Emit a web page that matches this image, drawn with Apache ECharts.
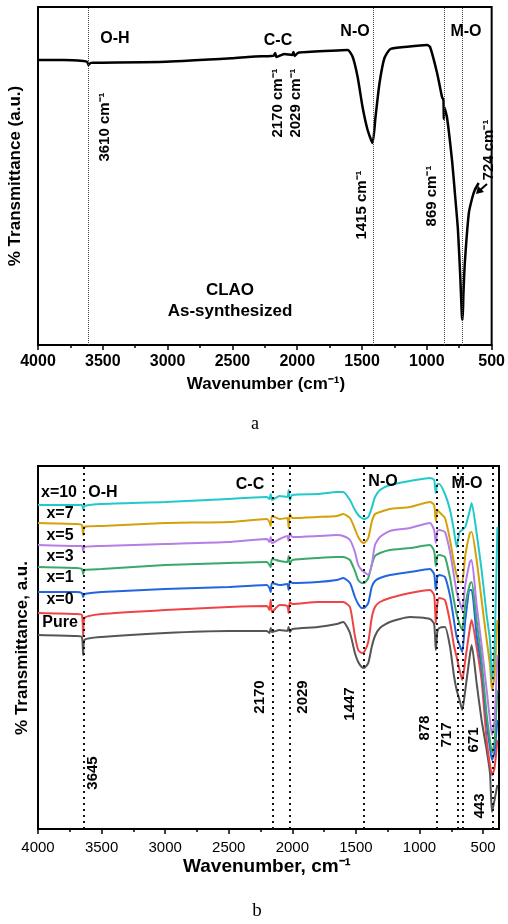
<!DOCTYPE html>
<html>
<head>
<meta charset="utf-8">
<script src="https://cdn.jsdelivr.net/npm/echarts@6/dist/echarts.min.js"></script>
<style>
html,body{margin:0;padding:0;background:#fff;}
#c{width:508px;height:924px;}
</style>
</head>
<body>
<div id="c"></div>
<script>
// ---------- Panel a: CLAO as-synthesized ----------
const waveA = [4000, 3800, 3650, 3620, 3610, 3595, 3576, 3014, 2506, 2353, 2200, 2180, 2170, 2160, 2100, 2040, 2029, 2020, 1993, 1738, 1611, 1572, 1534, 1496, 1457, 1419, 1396, 1365, 1327, 1281, 1151, 998, 975, 921, 883, 872, 869, 866, 845, 806, 781, 760, 742, 730, 724, 718, 707, 676, 650, 630, 600];
const transA = [285, 285, 284, 283, 280, 282, 282.3, 283.3, 286.7, 288.3, 289, 289.5, 292, 288, 291, 290, 293, 289, 292.3, 294.3, 295, 288, 268, 238, 215, 202, 228, 262, 287, 296, 298.3, 300, 298, 272, 248, 245, 226, 238, 228, 185, 148, 115, 68, 30, 25, 50, 82, 132, 147, 155, 162];
const peakLinesA = [3610, 1415, 869, 724];

// ---------- Panel b: doped series ----------
const waveB = [4000, 3700, 3655, 3645, 3635, 3500, 3000, 2500, 2200, 2180, 2170, 2160, 2100, 2040, 2029, 2020, 2000, 1800, 1650, 1600, 1547, 1508, 1482, 1455, 1435, 1403, 1376, 1350, 1311, 1233, 1075, 918, 885, 872, 860, 845, 800, 760, 730, 708, 685, 664, 640, 604, 590, 551, 512, 472, 446, 430, 410, 388];
const pureB = [194, 193, 192, 174, 189, 192, 196, 198, 198, 196, 201, 197, 199, 198, 202, 197, 200, 202, 205, 207, 196, 176, 167, 162, 161, 166, 182, 193, 201, 207, 212, 210, 205, 179, 197, 201, 202, 182, 154, 139, 129, 119, 139, 174, 184, 146, 109, 79, 56, 17, 29, 44];
const x0B = [216, 215, 214, 193, 211, 215, 219, 222, 223, 219, 229, 217, 224, 223, 216, 227, 225, 227, 227, 227, 222, 193, 179, 176, 177, 187, 211, 222, 227, 231, 236, 239, 234, 206, 225, 231, 229, 207, 184, 172, 159, 149, 169, 201, 209, 182, 149, 89, 64, 54, 61, 89];
const x1B = [237, 237, 236, 232, 235, 237, 240, 242, 244, 241, 237, 246, 244, 245, 239, 248, 246, 247, 249, 251, 246, 232, 225, 221, 221, 226, 242, 248, 251, 254, 257, 260, 255, 239, 252, 254, 252, 233, 209, 192, 184, 177, 209, 239, 239, 194, 161, 107, 81, 69, 77, 109];
const x3B = [262, 261, 260, 255, 259, 260, 264, 266, 267, 264, 262, 270, 268, 267, 273, 265, 269, 271, 272, 272, 269, 258, 249, 246, 246, 251, 264, 273, 276, 279, 281, 284, 278, 263, 273, 274, 272, 251, 229, 215, 205, 199, 224, 245, 247, 209, 169, 114, 89, 76, 87, 139];
const x5B = [284, 283, 283, 278, 282, 283, 285, 287, 290, 287, 292, 286, 290, 293, 288, 296, 292, 293, 294, 293, 289, 277, 264, 259, 257, 254, 264, 284, 292, 298, 301, 306, 299, 286, 298, 299, 297, 277, 254, 237, 227, 219, 244, 267, 269, 224, 184, 139, 109, 94, 109, 174];
const x7B = [306, 305, 304, 294, 302, 303, 306, 307, 310, 307, 303, 313, 310, 311, 301, 315, 311, 312, 313, 315, 311, 300, 292, 287, 286, 291, 307, 315, 317, 320, 322, 327, 324, 308, 319, 317, 311, 289, 267, 254, 247, 247, 274, 296, 297, 269, 229, 189, 164, 139, 154, 209];
const x10B = [324, 324, 324, 320, 323, 325, 327, 330, 332, 330, 335, 329, 333, 332, 339, 329, 334, 335, 337, 337, 329, 319, 314, 311, 310, 312, 321, 332, 339, 344, 348, 351, 349, 336, 345, 345, 335, 319, 299, 282, 297, 299, 302, 319, 326, 296, 259, 214, 189, 149, 179, 302];
const seriesNamesB = ['Pure', 'x=0', 'x=1', 'x=3', 'x=5', 'x=7', 'x=10'];
const peakLinesB = [3644, 2158, 2024, 1435, 861, 703, 659, 426];

const tickLabels = [4000, 3500, 3000, 2500, 2000, 1500, 1000, 500];
const minorTicksB = [3750, 3250, 2750, 2250, 1750, 1250, 750];

const F = '"Liberation Sans", Arial, Helvetica, sans-serif';
const colorsB = ['#555555', '#f04343', '#2265e0', '#3aa86a', '#b47ee6', '#d4a10a', '#22c9cc'];
const valsB = [pureB, x0B, x1B, x3B, x5B, x7B, x10B];

function pairs(xs, ys) { return xs.map((x, i) => [x, ys[i]]); }
const plain = v => String(v);

const chart = echarts.init(document.getElementById('c'), null, {renderer: 'canvas'});

function txt(t, x, y, size, opts) {
  opts = opts || {};
  return {
    type: 'text', x: x, y: y, z: 100,
    rotation: opts.rot ? Math.PI / 2 : 0,
    style: {
      text: t,
      font: (opts.weight || 'bold') + ' ' + size + 'px ' + (opts.family || F),
      fill: '#000', align: 'center', verticalAlign: 'middle'
    }
  };
}

const seriesB = valsB.map((v, i) => ({
  type: 'line', name: seriesNamesB[i], xAxisIndex: 1, yAxisIndex: 1,
  data: pairs(waveB, v), showSymbol: false, smooth: 0.2,
  lineStyle: {color: colorsB[i], width: 2}, itemStyle: {color: colorsB[i]},
  silent: true, z: 2 + i
}));
seriesB[6].markLine = {
  silent: true, symbol: ['none', 'none'], label: {show: false}, z: 20,
  lineStyle: {type: [2, 4], color: '#111', width: 2},
  data: peakLinesB.map(v => ({xAxis: v}))
};

const option = {
  backgroundColor: '#fff',
  animation: false,
  grid: [
    {left: 38, top: 7, width: 457, height: 338, show: true, borderColor: '#000', borderWidth: 2, backgroundColor: 'transparent'},
    {left: 38, top: 466, width: 461, height: 363, show: true, borderColor: '#000', borderWidth: 2, backgroundColor: 'transparent'}
  ],
  xAxis: [
    {
      gridIndex: 0, type: 'value', position: 'bottom', inverse: true, min: 500, max: 4000, interval: 500,
      axisLine: {show: true, lineStyle: {color: '#000', width: 2}},
      axisTick: {show: true, length: 5, lineStyle: {color: '#000', width: 1.5}},
      minorTick: {show: true, splitNumber: 2, length: 3, lineStyle: {color: '#000', width: 1.5}},
      splitLine: {show: false}, minorSplitLine: {show: false},
      axisLabel: {formatter: plain, fontFamily: F, fontWeight: 'bold', fontSize: 16, color: '#000', margin: 9}
    },
    {
      gridIndex: 1, type: 'value', position: 'bottom', inverse: true, min: 375, max: 4000,
      axisLine: {show: true, lineStyle: {color: '#000', width: 2}},
      axisTick: {show: true, length: 5, customValues: tickLabels, lineStyle: {color: '#000', width: 1.5}},
      splitLine: {show: false},
      axisLabel: {customValues: tickLabels, formatter: plain, fontFamily: F, fontSize: 15, color: '#000', margin: 11}
    },
    {
      gridIndex: 1, type: 'value', position: 'bottom', offset: 0, inverse: true, min: 375, max: 4000,
      axisLine: {show: false},
      axisTick: {show: true, length: 3, customValues: minorTicksB, lineStyle: {color: '#000', width: 1.5}},
      splitLine: {show: false},
      axisLabel: {show: false}
    }
  ],
  yAxis: [
    {gridIndex: 0, type: 'value', min: 0, max: 338, show: false, splitLine: {show: false}},
    {gridIndex: 1, type: 'value', min: 0, max: 363, show: false, splitLine: {show: false}}
  ],
  series: [
    {
      type: 'line', xAxisIndex: 0, yAxisIndex: 0, data: pairs(waveA, transA),
      showSymbol: false, smooth: 0.2, silent: true,
      lineStyle: {color: '#000', width: 2.5}, itemStyle: {color: '#000'},
      markLine: {
        silent: true, symbol: ['none', 'none'], label: {show: false},
        lineStyle: {type: 'dotted', color: '#444', width: 1},
        data: peakLinesA.map(v => ({xAxis: v}))
      }
    }
  ].concat(seriesB),
  graphic: [
    // panel a texts
    txt('O-H', 115, 39, 16),
    txt('C-C', 278, 41, 16),
    txt('N-O', 355, 32, 16),
    txt('M-O', 466, 32, 16),
    txt('3610 cm⁻¹', 105, 127, 15, {rot: true}),
    txt('2170 cm⁻¹', 278, 103, 15, {rot: true}),
    txt('2029 cm⁻¹', 296, 103, 15, {rot: true}),
    txt('1415 cm⁻¹', 362, 205, 15, {rot: true}),
    txt('869 cm⁻¹', 432, 196, 15, {rot: true}),
    txt('724 cm⁻¹', 489, 150, 15, {rot: true}),
    {type: 'polyline', z: 100, shape: {points: [[487, 184], [479, 191]]}, style: {stroke: '#000', lineWidth: 2}},
    {type: 'polygon', z: 100, shape: {points: [[476, 194], [478, 186], [484, 192]]}, style: {fill: '#000'}},
    txt('CLAO', 230, 290, 17),
    txt('As-synthesized', 230, 311, 17),
    txt('% Transmittance (a.u.)', 15, 176, 17, {rot: true}),
    txt('Wavenumber (cm⁻¹)', 266, 384, 17),
    txt('a', 255, 424, 18, {weight: 'normal', family: '"Liberation Serif", "Times New Roman", serif'}),
    // panel b texts
    txt('x=10', 59, 493, 16),
    txt('O-H', 103, 493, 16),
    txt('x=7', 60, 514, 16),
    txt('x=5', 60, 536, 16),
    txt('x=3', 60, 557, 16),
    txt('x=1', 60, 578, 16),
    txt('x=0', 60, 600, 16),
    txt('Pure', 60, 623, 16),
    txt('C-C', 250, 485, 16),
    txt('N-O', 383, 482, 16),
    txt('M-O', 467, 484, 16),
    txt('3645', 93, 773, 15, {rot: true}),
    txt('2170', 260, 697, 15, {rot: true}),
    txt('2029', 303, 697, 15, {rot: true}),
    txt('1447', 350, 704, 15, {rot: true}),
    txt('878', 425, 728, 15, {rot: true}),
    txt('717', 447, 735, 15, {rot: true}),
    txt('671', 474, 740, 15, {rot: true}),
    txt('443', 480, 806, 15, {rot: true}),
    txt('% Transmittance, a.u.', 22, 648, 17, {rot: true}),
    txt('Wavenumber, cm⁻¹', 267, 867, 19),
    txt('b', 257, 911, 19, {weight: 'normal', family: '"Liberation Serif", "Times New Roman", serif'})
  ]
};
chart.setOption(option);
</script>
</body>
</html>
